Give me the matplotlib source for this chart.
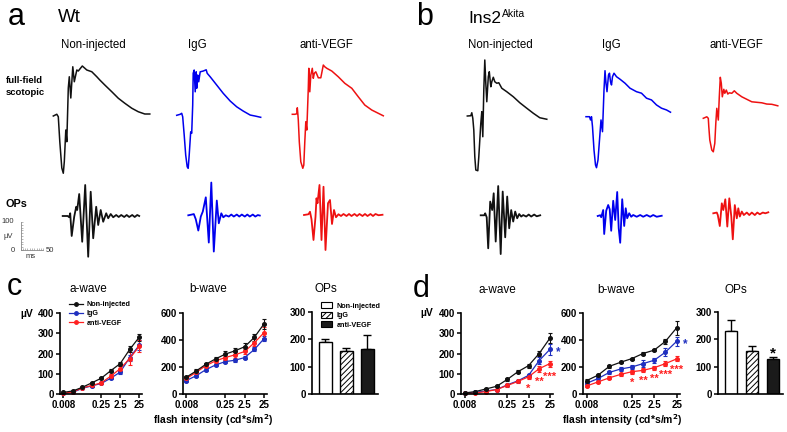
import numpy as np
import matplotlib
matplotlib.use("Agg")
import matplotlib.pyplot as plt
from matplotlib.lines import Line2D
from matplotlib.patches import Patch

plt.rcParams['font.family'] = ['Liberation Sans', 'DejaVu Sans']
plt.rcParams['hatch.linewidth'] = 0.7

W, H = 787, 432

groups = ['Non-injected', 'IgG', 'anti-VEGF']
colors = ['#111111', '#0000ee', '#ee1111']
plot_colors = ['#111111', '#1f2fbf', '#ff2020']

# ERG traces, time (ms) after flash, amplitude (uV)
wt_noninj_scot_t = [0, 7, 10, 13, 17, 20, 22, 25, 27, 30, 32, 35, 39, 42, 47, 50, 58, 67, 77, 87, 93, 103, 117, 130, 143, 157, 170, 183, 193]
wt_noninj_scot_v = [0, 7, -3, -103, -208, -229, -183, -56, -103, 112, 157, 72, 197, 137, 184, 180, 200, 184, 177, 157, 144, 124, 97, 71, 51, 31, 17, 8, 8]
wt_igg_scot_t = [0, 7, 10, 12, 15, 18, 21, 23, 25, 28, 30, 32, 33, 35, 37, 39, 40, 42, 44, 47, 53, 59, 61, 67, 80, 93, 107, 120, 133, 147, 157, 168]
wt_igg_scot_v = [0, 4, 8, -6, -79, -159, -206, -212, -159, -66, -72, 41, 168, 181, 94, 174, 108, 161, 134, 174, 177, 182, 168, 154, 121, 88, 57, 34, 17, 1, -3, -8]
wt_vegf_scot_t = [0, 5, 9, 10, 11, 12, 14, 17, 21, 23, 25, 27, 29, 32, 33, 35, 37, 40, 42, 44, 47, 52, 57, 62, 65, 69, 79, 92, 105, 119, 132, 145, 159, 172, 182]
wt_vegf_scot_v = [0, 0, 2, 26, 4, -23, -110, -190, -216, -203, -110, -30, -63, 104, 184, 90, 157, 184, 144, 164, 170, 146, 146, 197, 190, 184, 173, 150, 124, 104, 70, 37, 17, 4, -6]
ak_noninj_scot_t = [0, 7, 9, 11, 13, 15, 17, 21, 23, 27, 29, 31, 33, 35, 37, 39, 42, 44, 47, 49, 52, 55, 59, 63, 69, 79, 92, 105, 119, 132, 145, 159]
ak_noninj_scot_v = [0, 1, 13, -9, -56, -163, -216, -219, -163, -29, 17, -83, 104, 224, 131, 57, 157, 177, 117, 137, 155, 137, 131, 133, 111, 97, 77, 53, 31, 11, -7, -13]
ak_igg_scot_t = [0, 7, 9, 11, 13, 16, 19, 21, 24, 27, 30, 33, 36, 38, 40, 42, 45, 47, 49, 51, 53, 56, 61, 68, 78, 88, 101, 111, 121, 131, 141, 151, 161, 169]
ak_igg_scot_v = [0, 0, -13, 0, -40, -133, -193, -204, -173, -93, -13, -60, 107, 184, 134, 100, 167, 174, 140, 127, 160, 174, 160, 150, 134, 114, 100, 94, 74, 67, 47, 34, 27, 18]
ak_vegf_scot_t = [0, 7, 10, 11, 13, 17, 20, 23, 25, 27, 30, 32, 34, 36, 38, 41, 43, 46, 49, 52, 57, 62, 67, 77, 87, 97, 107, 117, 127, 137, 149]
ak_vegf_scot_v = [0, 6, 0, -34, -87, -127, -134, -100, -20, 40, -7, 86, 164, 140, 86, 116, 100, 113, 97, 102, 100, 110, 100, 86, 76, 66, 64, 62, 57, 56, 50]

wt_noninj_ops_t = [0, 10, 13, 15, 18, 23, 27, 29, 33, 39, 45, 51, 56, 61, 67, 71, 76, 81, 87, 91, 96, 101, 107, 112, 117, 123, 128, 133, 139, 144, 149, 153]
wt_noninj_ops_v = [0, 0, -5, 11, -80, -3, 37, 24, 88, -103, 124, -163, 97, -89, 37, -36, 24, -23, 11, -9, 8, -5, 4, -4, 4, -4, 4, -4, 4, -4, 4, 0]
wt_igg_ops_t = [0, 7, 11, 15, 20, 25, 29, 35, 41, 46, 51, 57, 61, 66, 70, 75, 81, 86, 91, 97, 102, 107, 113, 118, 123, 129, 134, 139, 143]
wt_igg_ops_v = [0, 3, 5, -16, -61, -5, 15, 72, -109, 131, -145, 59, -32, 8, -8, 0, -5, 3, -5, 3, -5, 3, -5, 3, -5, 3, -5, 1, -1]
wt_vegf_ops_t = [0, 9, 12, 15, 19, 23, 25, 27, 31, 35, 39, 43, 48, 52, 56, 60, 64, 69, 74, 79, 85, 90, 95, 101, 106, 111, 117, 122, 127, 133, 138, 143, 149, 157]
wt_vegf_ops_v = [0, 3, 13, -17, -100, -7, 67, 47, 120, -100, 113, -140, 47, 60, -36, 20, -9, 3, -4, 4, -4, 4, -4, 4, -4, 4, -4, 4, -4, 4, -4, 4, -1, 1]
ak_noninj_ops_t = [0, 7, 9, 12, 15, 19, 23, 26, 30, 35, 40, 44, 49, 53, 57, 61, 65, 69, 73, 77, 81, 85, 91, 96, 101, 107, 112, 119]
ak_noninj_ops_v = [0, 0, 8, -8, -132, 55, 21, 88, -105, 117, -155, 95, -88, 75, -52, 21, -25, 15, -12, 5, -5, 1, -5, 3, -5, 3, -4, 0]
ak_igg_ops_t = [0, 5, 7, 11, 13, 17, 21, 24, 27, 31, 35, 39, 42, 45, 49, 53, 56, 59, 63, 67, 71, 78, 85, 91, 98, 105, 111, 118, 128]
ak_igg_ops_v = [0, 3, -5, 24, -72, 21, 44, 27, -59, 61, -16, 96, -49, -107, 67, -40, 31, -9, 11, -3, 4, -3, 4, -3, 4, -3, 4, -3, 1]
ak_vegf_ops_t = [0, 7, 9, 13, 17, 20, 24, 28, 32, 36, 39, 43, 47, 50, 53, 57, 61, 67, 72, 77, 83, 88, 93, 99, 104, 110]
ak_vegf_ops_v = [0, 3, -7, -51, 40, 13, 56, -53, 60, -13, -104, 33, -20, 20, -13, 7, -7, 3, -7, 3, -7, 3, -4, 3, 0, 4]

# intensity-response (9 flash steps, labelled ticks only)
n_steps = 9
tick_idx = [0, 4, 6, 8]
tick_labels = ['0.008', '0.25', '2.5', '25']

wt_a_mean = [[8, 15, 33, 55, 78, 115, 150, 220, 280],
             [3, 8, 28, 40, 52, 78, 108, 180, 240],
             [4, 10, 30, 42, 55, 88, 125, 175, 235]]
wt_a_err = [[3, 3, 4, 5, 6, 8, 10, 15, 18],
            [2, 3, 4, 4, 5, 6, 8, 15, 25],
            [2, 3, 4, 5, 6, 10, 12, 30, 30]]
wt_b_mean = [[125, 170, 220, 260, 295, 320, 350, 420, 520],
             [100, 135, 180, 215, 240, 250, 270, 330, 410],
             [115, 160, 210, 245, 270, 290, 315, 380, 455]]
wt_b_err = [[10, 15, 12, 15, 20, 20, 25, 25, 35],
            [8, 8, 10, 10, 12, 12, 12, 15, 20],
            [10, 12, 12, 15, 15, 20, 20, 25, 40]]
ak_a_mean = [[5, 12, 25, 38, 72, 110, 140, 200, 275],
             [5, 8, 15, 22, 45, 65, 92, 165, 220],
             [3, 5, 12, 22, 42, 62, 85, 125, 150]]
ak_a_err = [[3, 3, 4, 5, 6, 8, 10, 12, 25],
            [2, 3, 3, 4, 5, 6, 8, 18, 25],
            [2, 2, 3, 4, 5, 6, 10, 15, 15]]
ak_b_mean = [[100, 140, 205, 235, 262, 300, 325, 390, 490],
             [80, 115, 160, 185, 200, 225, 250, 310, 390],
             [60, 90, 120, 145, 165, 175, 195, 225, 260]]
ak_b_err = [[8, 8, 10, 8, 8, 8, 8, 20, 50],
            [8, 10, 12, 12, 15, 25, 20, 30, 35],
            [8, 8, 12, 12, 15, 15, 15, 18, 18]]
ak_a_red_stars = {6: '*', 7: '**', 8: '***'}
ak_b_red_stars = {4: '*', 5: '**', 6: '**', 7: '***', 8: '***'}

wt_ops_mean = [190, 158, 165]
wt_ops_err = [10, 10, 52]
ak_ops_mean = [230, 157, 128]
ak_ops_err = [40, 18, 7]


def px_axes(left, top, width, height):
    ax = fig.add_axes([left / W, 1 - (top + height) / H, width / W, height / H])
    return ax


def trace(x0, y0, t, v, color, lw):
    # 2 ms per pixel, 4 uV per pixel; (0, 0) sits at pixel (x0, y0)
    ax = px_axes(x0, y0 - 60, 115, 120)
    ax.plot(t, v, color=color, lw=lw, clip_on=False, solid_joinstyle='round')
    ax.set_xlim(0, 230)
    ax.set_ylim(-240, 240)
    ax.axis('off')
    ax.patch.set_visible(False)


def px_text(x, y, s, **kw):
    fig.text(x / W, 1 - y / H, s, **kw)


def style_axes(ax):
    for s in ['top', 'right']:
        ax.spines[s].set_visible(False)
    for s in ['left', 'bottom']:
        ax.spines[s].set_linewidth(1.2)
    ax.tick_params(labelsize=7, width=1.1, length=3, pad=1.5)
    for lbl in ax.get_xticklabels() + ax.get_yticklabels():
        lbl.set_fontweight('bold')
    ax.patch.set_visible(False)


def line_panel(left, width, top_val, yticks, means, errs):
    ax = px_axes(left, 313, width, 81)
    x = np.arange(n_steps)
    for i in [1, 2, 0]:
        ax.errorbar(x, means[i], yerr=errs[i], color=plot_colors[i], marker='o', ms=2.6,
                    lw=0.9, elinewidth=0.8, capsize=1.3, capthick=0.8, clip_on=False)
    ax.set_xlim(-0.35, n_steps - 0.7)
    ax.set_ylim(0, top_val)
    ax.set_yticks(yticks)
    ax.set_xticks(tick_idx)
    ax.set_xticklabels(tick_labels)
    style_axes(ax)
    return ax


def bar_panel(left, width, means, errs, bw):
    ax = px_axes(left, 312, width, 82)
    x = np.arange(3)
    bars = ax.bar(x, means, width=bw, color=['white', 'white', '#1a1a1a'],
                  edgecolor='black', linewidth=1.0, zorder=2)
    bars[1].set_hatch('//////')
    ax.errorbar(x, means, yerr=[np.zeros(3), errs], fmt='none', ecolor='black',
                elinewidth=1.0, capsize=3, capthick=1.0, zorder=1)
    ax.set_xlim(-0.62, -0.62 + width / 21)
    ax.set_ylim(0, 300)
    ax.set_yticks([0, 100, 200, 300])
    ax.set_xticks([])
    style_axes(ax)
    return ax


fig = plt.figure(figsize=(W / 100, H / 100), dpi=100)

# ---- headers ----
px_text(8, 25, 'a', fontsize=22, va='baseline')
px_text(58, 22, 'Wt', fontsize=13.5, va='baseline')
px_text(416, 25, 'b', fontsize=22, va='baseline')
px_text(468, 23, 'Ins2', fontsize=12.5, va='baseline')
px_text(502, 17, 'Akita', fontsize=7.5, va='baseline')

for cx, name in zip([93, 197, 326], groups):
    px_text(cx, 48, name, fontsize=8.3, ha='center', va='baseline')
for cx, name in zip([500, 611, 736], groups):
    px_text(cx, 48, name, fontsize=8.3, ha='center', va='baseline')

px_text(6, 83, 'full-field', fontsize=6.8, fontweight='bold', va='baseline')
px_text(6, 95, 'scotopic', fontsize=6.8, fontweight='bold', va='baseline')
px_text(5, 207, 'OPs', fontsize=7.8, fontweight='bold', va='baseline')

# ---- traces ----
trace(53.3, 116, wt_noninj_scot_t, wt_noninj_scot_v, colors[0], 1.1)
trace(176.7, 115.3, wt_igg_scot_t, wt_igg_scot_v, colors[1], 1.1)
trace(292.3, 114.3, wt_vegf_scot_t, wt_vegf_scot_v, colors[2], 1.1)
trace(467.3, 116, ak_noninj_scot_t, ak_noninj_scot_v, colors[0], 1.1)
trace(586, 116.7, ak_igg_scot_t, ak_igg_scot_v, colors[1], 1.1)
trace(703.3, 118.3, ak_vegf_scot_t, ak_vegf_scot_v, colors[2], 1.1)

trace(62.7, 216, wt_noninj_ops_t, wt_noninj_ops_v, colors[0], 1.3)
trace(188.3, 215.3, wt_igg_ops_t, wt_igg_ops_v, colors[1], 1.3)
trace(304, 215, wt_vegf_ops_t, wt_vegf_ops_v, colors[2], 1.3)
trace(480.7, 215.3, ak_noninj_ops_t, ak_noninj_ops_v, colors[0], 1.3)
trace(597.7, 216, ak_igg_ops_t, ak_igg_ops_v, colors[1], 1.3)
trace(713.3, 213.3, ak_vegf_ops_t, ak_vegf_ops_v, colors[2], 1.3)

# scale bar
sb = px_axes(20.7, 222, 22.6, 28)
sb.set_xlim(0, 50)
sb.set_ylim(0, 100)
for s in ['top', 'right']:
    sb.spines[s].set_visible(False)
for s in ['left', 'bottom']:
    sb.spines[s].set_color('#888888')
    sb.spines[s].set_linewidth(0.6)
sb.set_xticks(np.arange(0, 51, 5))
sb.set_yticks(np.arange(0, 101, 10))
sb.tick_params(length=1.2, width=0.5, color='#999999', direction='in',
               labelbottom=False, labelleft=False)
sb.patch.set_visible(False)
px_text(8, 222, '100', fontsize=5.5, ha='center', va='center', color='#333333')
px_text(8, 236, 'µV', fontsize=5.5, ha='center', va='center', color='#333333')
px_text(13, 250, '0', fontsize=5.5, ha='center', va='center', color='#333333')
px_text(50, 250, '50', fontsize=5.5, ha='center', va='center', color='#333333')
px_text(31, 257, 'ms', fontsize=5.5, ha='center', va='center', color='#333333')

# ---- panel c ----
px_text(7, 295, 'c', fontsize=22, va='baseline')
px_text(20, 317, 'µV', fontsize=7.5, fontweight='bold', va='baseline')
ax_ca = line_panel(60, 82, 400, [0, 100, 200, 300, 400], wt_a_mean, wt_a_err)
ax_cb = line_panel(183, 84, 600, [0, 200, 400, 600], wt_b_mean, wt_b_err)
ax_co = bar_panel(312, 66, wt_ops_mean, wt_ops_err, 0.62)
px_text(88, 292, 'a-wave', fontsize=8.5, ha='center', va='baseline')
px_text(208, 292, 'b-wave', fontsize=8.5, ha='center', va='baseline')
px_text(326, 292, 'OPs', fontsize=8.5, ha='center', va='baseline')
px_text(213, 424, 'flash intensity (cd*s/m$^\\mathbf{2}$)', fontsize=7.5,
        fontweight='bold', ha='center', va='baseline')

line_handles = [Line2D([], [], color=c, marker='o', ms=2.5, lw=0.9) for c in plot_colors]
ax_ca.legend(line_handles, groups, loc='upper left', bbox_to_anchor=(0.06, 1.19),
             frameon=False, prop={'size': 5.2, 'weight': 'bold'}, handlelength=2.0,
             labelspacing=0.3, borderpad=0, handletextpad=0.5)
bar_handles = [Patch(facecolor='white', edgecolor='black', lw=0.8),
               Patch(facecolor='white', edgecolor='black', lw=0.8, hatch='//////'),
               Patch(facecolor='#1a1a1a', edgecolor='black', lw=0.8)]
ax_co.legend(bar_handles, groups, loc='upper left', bbox_to_anchor=(0.08, 1.16),
             frameon=False, prop={'size': 5.2, 'weight': 'bold'}, handlelength=1.6,
             handleheight=0.9, labelspacing=0.25, borderpad=0, handletextpad=0.6)

# ---- panel d ----
px_text(413, 297, 'd', fontsize=22, va='baseline')
px_text(420, 316, 'µV', fontsize=7.5, fontweight='bold', va='baseline')
ax_da = line_panel(461, 92, 400, [0, 100, 200, 300, 400], ak_a_mean, ak_a_err)
ax_db = line_panel(583, 97, 600, [0, 200, 400, 600], ak_b_mean, ak_b_err)
ax_do = bar_panel(718, 65, ak_ops_mean, ak_ops_err, 0.57)
px_text(497, 293, 'a-wave', fontsize=8.5, ha='center', va='baseline')
px_text(616, 293, 'b-wave', fontsize=8.5, ha='center', va='baseline')
px_text(736, 293, 'OPs', fontsize=8.5, ha='center', va='baseline')
px_text(622, 424, 'flash intensity (cd*s/m$^\\mathbf{2}$)', fontsize=7.5,
        fontweight='bold', ha='center', va='baseline')

for i, s in ak_a_red_stars.items():
    ax_da.text(i, ak_a_mean[2][i] - ak_a_err[2][i] - 50, s, color=plot_colors[2],
               fontsize=8, fontweight='bold', ha='center', va='center')
for i, s in ak_b_red_stars.items():
    ax_db.text(i, ak_b_mean[2][i] - ak_b_err[2][i] - 65, s, color=plot_colors[2],
               fontsize=8, fontweight='bold', ha='center', va='center')
ax_da.text(n_steps - 1 + 0.75, ak_a_mean[1][-1] - 15, '*', color=plot_colors[1],
           fontsize=8.5, fontweight='bold', ha='center', va='center')
ax_db.text(n_steps - 1 + 0.75, ak_b_mean[1][-1] - 20, '*', color=plot_colors[1],
           fontsize=8.5, fontweight='bold', ha='center', va='center')
ax_do.text(2, ak_ops_mean[2] + ak_ops_err[2] + 12, '*', fontsize=11,
           fontweight='bold', ha='center', va='center')

fig.savefig('out.png', dpi=100)
